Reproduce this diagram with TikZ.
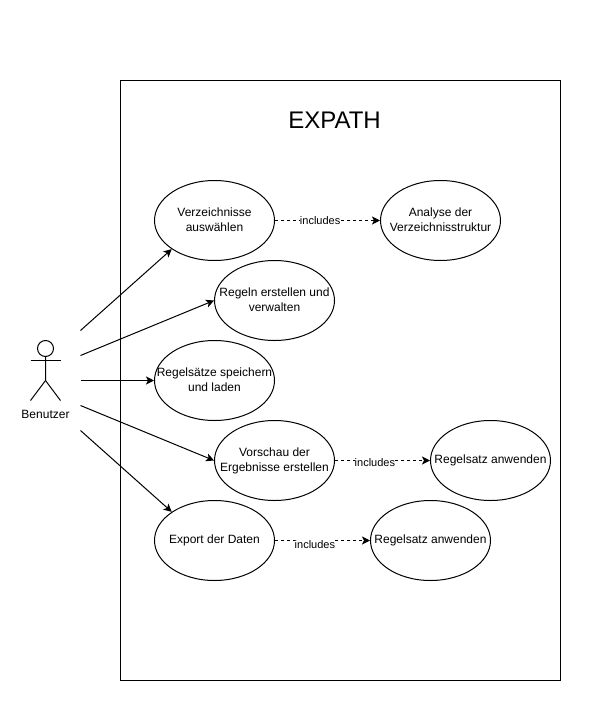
\documentclass[tikz,border=0pt]{standalone}
\usepackage{fontspec}
\setmainfont{Liberation Sans}
\usetikzlibrary{arrows.meta,positioning,shapes.geometric}

\newcommand{\uctext}[1]{\hbox to 0pt{\hss\raisebox{-0.5pt}{\begin{tabular}{@{}c@{}}#1\end{tabular}}\hss}}

\tikzset{
    usecase/.style={ellipse, draw, fill=white, minimum width=120pt, minimum height=80pt, inner sep=0pt},
    incl/.style={dash pattern=on 3pt off 3pt},
    incllabel/.style={fill=white, inner sep=0pt, font=\fontsize{11}{13}\selectfont}
}

\begin{document}
\begin{tikzpicture}[x=1pt,y=-1pt,line width=1pt,on grid,>={Stealth[length=8pt,width=8pt,inset=2pt]},font=\fontsize{12}{15}\selectfont]
    \useasboundingbox (-0.5,-0.5) rectangle (599.5,719.5);
    \fill[white] (-0.5,-0.5) rectangle (599.5,719.5);
    \node[draw, minimum width=440pt, minimum height=600pt, inner sep=0pt] (system) at (340,380) {};
    \node[font=\fontsize{24}{28}\selectfont] (title) at (334,120) {EXPATH};

    \node[usecase]          (verz)   at (214,220)              {\uctext{Verzeichnisse\\auswählen}};
    \node[usecase]          (regeln) [below right=80pt and 60pt of verz] {\uctext{Regeln erstellen und\\verwalten}};
    \node[usecase]          (saetze) [below=160pt of verz]     {\uctext{Regelsätze speichern\\und laden}};
    \node[usecase]          (vorsch) [below=160pt of regeln]   {\uctext{Vorschau der\\Ergebnisse erstellen}};
    \node[usecase]          (export) [below=160pt of saetze]   {\uctext{Export der Daten}};
    \node[usecase]          (analyse) [right=226pt of verz]    {\uctext{Analyse der\\Verzeichnisstruktur}};
    \node[usecase]          (anw1)   [right=216pt of vorsch]   {\uctext{Regelsatz anwenden}};
    \node[usecase]          (anw2)   [right=216pt of export]   {\uctext{Regelsatz anwenden}};

    % actor
    \node[circle, draw, minimum size=16pt, inner sep=0pt] (head) at (45,348) {};
    \coordinate (hip) at (45,380);
    \coordinate (armL) at (30,360);
    \coordinate (armR) at (60,360);
    \coordinate (legL) at (30,400);
    \coordinate (legR) at (60,400);
    \draw (head) -- (hip) -- (legL);
    \draw (hip) -- (legR);
    \draw (armL) -- (armR);
    \node (benutzer) at (45,414) {Benutzer};

    \coordinate (a1) at (80,330);
    \coordinate (a2) at (80,355);
    \coordinate (a3) at (80,380);
    \coordinate (a4) at (80,405);
    \coordinate (a5) at (80,430);

    \path[->]
    (a1)     edge (verz.south west)
    (a2)     edge (regeln.west)
    (a3)     edge (saetze.west)
    (a4)     edge (vorsch.west)
    (a5)     edge (export.north west);

    \path[->, incl]
    (verz.east)   edge node[incllabel, pos=.43]            {includes} (analyse.west)
    (vorsch.east) edge node[incllabel, pos=.42, yshift=-2pt] {includes} (anw1.west)
    (export.east) edge node[incllabel, pos=.42, yshift=-4pt] {includes} (anw2.west);
\end{tikzpicture}
\end{document}
